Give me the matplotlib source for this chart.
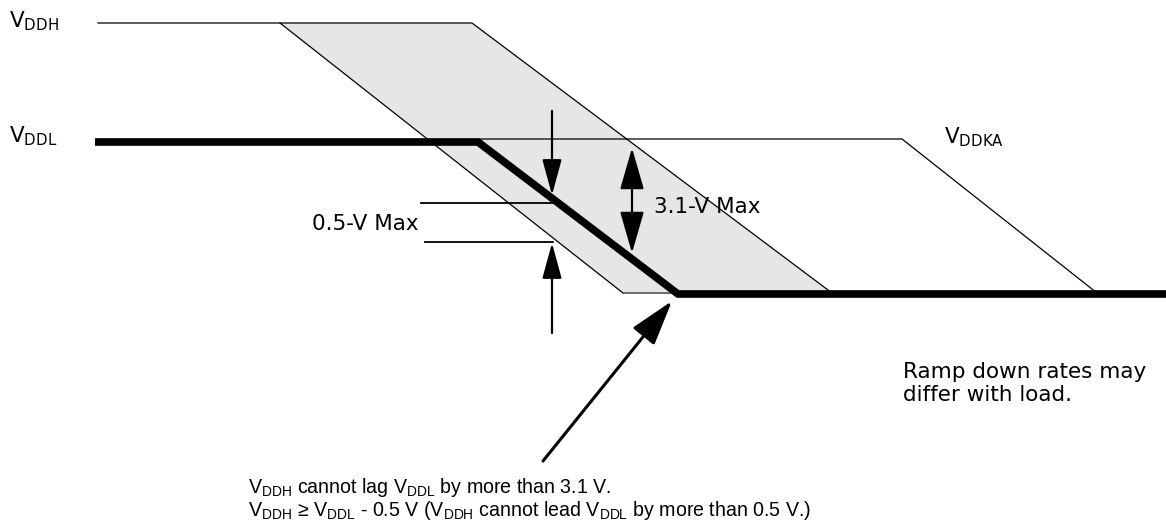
import matplotlib
matplotlib.use("Agg")
import matplotlib.pyplot as plt
from matplotlib.patches import Polygon

plt.rcParams['font.family'] = ['DejaVu Sans']
plt.rcParams['mathtext.fontset'] = 'custom'
plt.rcParams['mathtext.rm'] = 'Liberation Sans'
plt.rcParams['mathtext.it'] = 'Liberation Sans'
plt.rcParams['mathtext.sf'] = 'Liberation Sans'
plt.rcParams['mathtext.bf'] = 'Liberation Sans'

# ---- waveform data (time, level) in diagram units ----
vddh_t = [98, 472, 832]
vddh_v = [23, 23, 293]

vddl_t = [95, 478, 678, 1166]
vddl_v = [142, 142, 294, 294]

vddka_t = [478, 902, 1097]
vddka_v = [139, 139, 293]

# allowed VDDH region (tolerance band)
band_t = [280, 472, 832, 623]
band_v = [23, 23, 293, 293]

labels = {
    "vddh": r"V$_{\mathrm{DDH}}$",
    "vddl": r"V$_{\mathrm{DDL}}$",
    "vddka": r"V$_{\mathrm{DDKA}}$",
    "lead": "0.5-V Max",
    "lag": "3.1-V Max",
    "ramp1": "Ramp down rates may",
    "ramp2": "differ with load.",
    "note1": r"V$_{\mathrm{DDH}}$ cannot lag V$_{\mathrm{DDL}}$ by more than 3.1 V.",
    "note2": r"V$_{\mathrm{DDH}}$ ≥ V$_{\mathrm{DDL}}$ - 0.5 V (V$_{\mathrm{DDH}}$ cannot lead V$_{\mathrm{DDL}}$ by more than 0.5 V.)",
}

fig = plt.figure(figsize=(11.66, 5.29), dpi=100)
ax = fig.add_axes([0, 0, 1, 1])
ax.set_xlim(0, 1166)
ax.set_ylim(529, 0)
ax.axis('off')

# shaded band
band = Polygon(list(zip(band_t, band_v)), closed=True, facecolor='#e6e6e6',
               edgecolor='none', zorder=1)
ax.add_patch(band)
ax.plot([band_t[0], band_t[3]], [band_v[0], band_v[3]], color='black', lw=0.9, zorder=2)
ax.plot([band_t[3], band_t[2]], [band_v[3], band_v[2]], color='#555555', lw=1.2, zorder=2)

# waveforms
ax.plot(vddh_t, vddh_v, color='black', lw=0.9, zorder=3)
ax.plot(vddka_t, vddka_v, color='black', lw=0.9, zorder=3)
ax.plot(vddl_t, vddl_v, color='black', lw=5.5, solid_joinstyle='miter',
        solid_capstyle='butt', zorder=4)

# 0.5-V max dimension
ax.plot([421, 553], [203, 203], color='black', lw=1.3, zorder=5)
ax.plot([425, 553], [242, 242], color='black', lw=1.3, zorder=5)
ax.annotate('', xy=(552, 195), xytext=(552, 111),
            arrowprops=dict(arrowstyle='-|>,head_length=2.2,head_width=0.6',
                            mutation_scale=10, lw=1.6, color='black',
                            shrinkA=0, shrinkB=0), zorder=6)
ax.annotate('', xy=(552, 243), xytext=(552, 333),
            arrowprops=dict(arrowstyle='-|>,head_length=2.2,head_width=0.6',
                            mutation_scale=10, lw=1.6, color='black',
                            shrinkA=0, shrinkB=0), zorder=6)

# 3.1-V max dimension
ax.annotate('', xy=(632, 148), xytext=(632, 253),
            arrowprops=dict(arrowstyle='<|-|>,head_length=2.6,head_width=0.75',
                            mutation_scale=10, lw=1.6, color='black',
                            shrinkA=0, shrinkB=0), zorder=6)

# pointer arrow
ax.annotate('', xy=(672, 301), xytext=(543, 461),
            arrowprops=dict(arrowstyle='-|>,head_length=2.8,head_width=0.85',
                            mutation_scale=10, lw=2.2, color='black',
                            shrinkA=0, shrinkB=0), zorder=6)

fs = 15.5
lab = dict(fontsize=fs, va='baseline', math_fontfamily='dejavusans')
ax.text(9, 27, labels["vddh"], ha='left', **lab)
ax.text(9, 142, labels["vddl"], ha='left', **lab)
ax.text(944, 143, labels["vddka"], ha='left', **lab)
ax.text(419, 230, labels["lead"], ha='right', **lab)
ax.text(654, 213, labels["lag"], ha='left', zorder=7, **lab)
ax.text(903, 378, labels["ramp1"], ha='left', **lab)
ax.text(903, 401, labels["ramp2"], ha='left', **lab)

note = dict(fontsize=14.1, va='baseline', ha='left', family=['Liberation Sans'],
            math_fontfamily='custom')
ax.text(248, 493, labels["note1"], **note)
ax.text(248, 516, labels["note2"], **note)

fig.savefig("out.png", dpi=100)
